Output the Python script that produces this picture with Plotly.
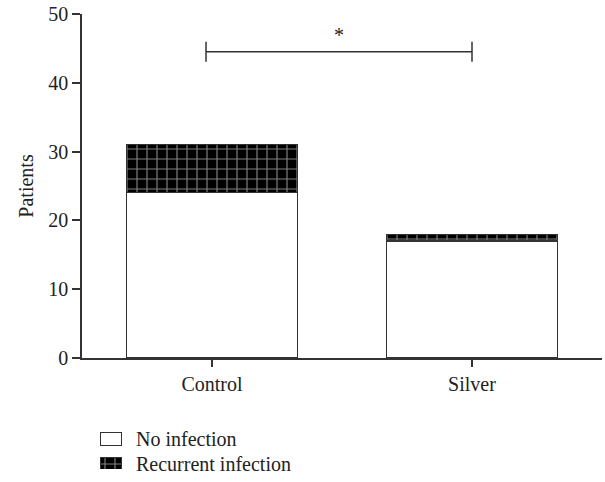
import plotly.graph_objects as go

categories = ["Control", "Silver"]
no_infection = [24, 17]
recurrent_infection = [7, 1]
y_ticks = [0, 10, 20, 30, 40, 50]
sig_y = 44.5
sig_label = "*"
legend_labels = ["No infection", "Recurrent infection"]

FONT = "Liberation Serif, Times New Roman, serif"
FS = 20
INK = "#222"
LINE = "#333"

white_marker = dict(color="white", line=dict(color=LINE, width=1.2))
black_marker = dict(color="black", line=dict(color=LINE, width=1.2),
                    pattern=dict(shape="+", fgcolor="white", bgcolor="black",
                                 size=10, solidity=0.22, fillmode="overlay"))

fig = go.Figure()
fig.add_trace(go.Bar(x=categories, y=no_infection, name=legend_labels[0],
                     marker=white_marker, width=0.66, showlegend=False))
fig.add_trace(go.Bar(x=categories, y=recurrent_infection, name=legend_labels[1],
                     marker=black_marker, width=0.66, showlegend=False))

# custom legend (patterned boxes) on a small helper axis
fig.add_trace(go.Bar(x=[1], y=[legend_labels[0]], orientation="h", marker=white_marker,
                     width=0.52, xaxis="x2", yaxis="y2", showlegend=False, hoverinfo="skip"))
fig.add_trace(go.Bar(x=[1], y=[legend_labels[1]], orientation="h", marker=black_marker,
                     width=0.52, xaxis="x2", yaxis="y2", showlegend=False, hoverinfo="skip"))
for lab in legend_labels:
    fig.add_annotation(x=1, xref="x2 domain", y=lab, yref="y2", text=lab, showarrow=False,
                       xanchor="left", xshift=12, font=dict(family=FONT, size=FS, color=INK))

# significance bracket
i0, i1 = -0.023, 1.0
fig.add_shape(type="line", xref="x", yref="y", x0=i0, x1=i1, y0=sig_y, y1=sig_y,
              line=dict(color=LINE, width=1.5))
for xi in (i0, i1):
    fig.add_shape(type="line", xref="x", yref="y", x0=xi, x1=xi,
                  y0=sig_y - 1.45, y1=sig_y + 1.45, line=dict(color=LINE, width=1.5))
fig.add_annotation(x=(i0 + i1) / 2, y=sig_y + 0.5, xref="x", yref="y", text=sig_label,
                   showarrow=False, yanchor="bottom", font=dict(size=FS, color=INK, family=FONT))

fig.update_layout(
    width=605, height=482,
    margin=dict(l=82, r=3, t=14, b=13, autoexpand=False),
    barmode="stack",
    plot_bgcolor="white", paper_bgcolor="white",
    font=dict(family=FONT, size=FS, color=INK),
    showlegend=False,
    xaxis=dict(type="category", range=[-0.5, 1.5], showline=True, linecolor=LINE, linewidth=1.5,
               ticks="outside", ticklen=7, tickcolor=LINE, tickwidth=1.5, showgrid=False,
               anchor="y", automargin=False, tickfont=dict(family=FONT, size=FS, color=INK)),
    yaxis=dict(domain=[0.2440, 1], range=[0, 50], tickvals=y_ticks, showline=True, linecolor=LINE,
               linewidth=1.5, ticks="outside", ticklen=8, tickcolor=LINE, tickwidth=1.5,
               showgrid=False, zeroline=False, anchor="x", automargin=False,
               title=dict(text="Patients", font=dict(family=FONT, size=FS, color=INK), standoff=9),
               tickfont=dict(family=FONT, size=FS, color=INK)),
    xaxis2=dict(domain=[0.0346, 0.0769], range=[0, 1], visible=False, anchor="y2",
                fixedrange=True, automargin=False),
    yaxis2=dict(domain=[0, 0.1318], type="category", range=[1.2, -1.2], visible=False,
                anchor="x2", fixedrange=True, automargin=False),
)

fig.write_html("out.html")
